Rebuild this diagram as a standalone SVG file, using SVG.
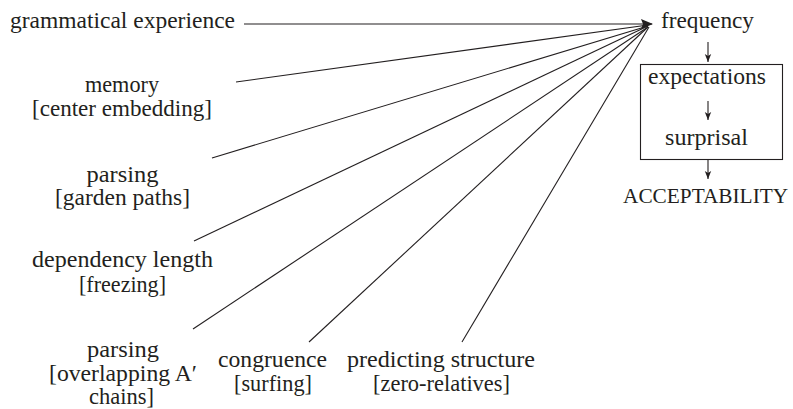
<svg xmlns="http://www.w3.org/2000/svg" width="793" height="409" viewBox="0 0 793 409">
<style>
text{font-family:"Liberation Serif","Times New Roman",serif;font-size:23px;fill:#231f20}
.c{text-anchor:middle}
.ln{stroke:#231f20;stroke-width:1.1;fill:none}
</style>
<defs>
<marker id="big" markerWidth="12" markerHeight="10" refX="11" refY="5" orient="auto" markerUnits="userSpaceOnUse">
<path d="M0,0 L12,5 L0,10 L2,5 Z" fill="#231f20"/>
</marker>
<marker id="small" markerWidth="8" markerHeight="8" refX="4" refY="8" orient="0" markerUnits="userSpaceOnUse">
<path d="M0.8,0 L4,8 L7.2,0 L4,2 Z" fill="#231f20"/>
</marker>
</defs>
<rect width="793" height="409" fill="#fff"/>
<g id="connectors">
<line class="ln" x1="244" y1="24" x2="652" y2="24" marker-end="url(#big)"/>
<line class="ln" x1="236" y1="82" x2="648" y2="25"/>
<line class="ln" x1="212" y1="158" x2="648" y2="26"/>
<line class="ln" x1="194" y1="241" x2="648" y2="26"/>
<line class="ln" x1="193" y1="329" x2="648" y2="27"/>
<line class="ln" x1="309" y1="342" x2="648" y2="27"/>
<line class="ln" x1="462" y1="342" x2="649" y2="27"/>
<line class="ln" x1="708" y1="42" x2="708" y2="62" marker-end="url(#small)"/>
<line class="ln" x1="708" y1="101" x2="708" y2="120" marker-end="url(#small)"/>
<line class="ln" x1="708" y1="159" x2="708" y2="179" marker-end="url(#small)"/>
</g>
<g id="n-grammatical"><text x="10" y="28" textLength="225" lengthAdjust="spacingAndGlyphs">grammatical experience</text></g>
<g id="n-memory">
<text class="c" x="122" y="92" textLength="74" lengthAdjust="spacingAndGlyphs">memory</text>
<text class="c" x="122" y="116" textLength="180" lengthAdjust="spacingAndGlyphs">[center embedding]</text>
</g>
<g id="n-parsing1">
<text class="c" x="122.5" y="182" textLength="72" lengthAdjust="spacingAndGlyphs">parsing</text>
<text class="c" x="122.5" y="205" textLength="135" lengthAdjust="spacingAndGlyphs">[garden paths]</text>
</g>
<g id="n-dependency">
<text class="c" x="122.5" y="267" textLength="181" lengthAdjust="spacingAndGlyphs">dependency length</text>
<text class="c" x="122.5" y="292" textLength="87" lengthAdjust="spacingAndGlyphs">[freezing]</text>
</g>
<g id="n-parsing2">
<text class="c" x="123" y="357" textLength="72" lengthAdjust="spacingAndGlyphs">parsing</text>
<text class="c" x="123" y="381" textLength="148" lengthAdjust="spacingAndGlyphs">[overlapping A′</text>
<text class="c" x="121.5" y="404" textLength="65" lengthAdjust="spacingAndGlyphs">chains]</text>
</g>
<g id="n-congruence">
<text class="c" x="272.5" y="367" textLength="109" lengthAdjust="spacingAndGlyphs">congruence</text>
<text class="c" x="273" y="391" textLength="78" lengthAdjust="spacingAndGlyphs">[surfing]</text>
</g>
<g id="n-predicting">
<text class="c" x="441" y="367" textLength="188" lengthAdjust="spacingAndGlyphs">predicting structure</text>
<text class="c" x="441.5" y="391" textLength="137" lengthAdjust="spacingAndGlyphs">[zero-relatives]</text>
</g>
<g id="n-frequency"><text x="661" y="28" textLength="93" lengthAdjust="spacingAndGlyphs">frequency</text></g>
<g id="n-box">
<rect x="640.5" y="64.5" width="142" height="95" fill="none" stroke="#231f20" stroke-width="1.1"/>
</g>
<g id="n-expectations"><text x="648" y="84" textLength="118" lengthAdjust="spacingAndGlyphs">expectations</text></g>
<g id="n-surprisal"><text x="665" y="145" textLength="83" lengthAdjust="spacingAndGlyphs">surprisal</text></g>
<g id="n-acceptability"><text x="623" y="203" style="font-size:21.3px">ACCEPTABILITY</text></g>
</svg>
